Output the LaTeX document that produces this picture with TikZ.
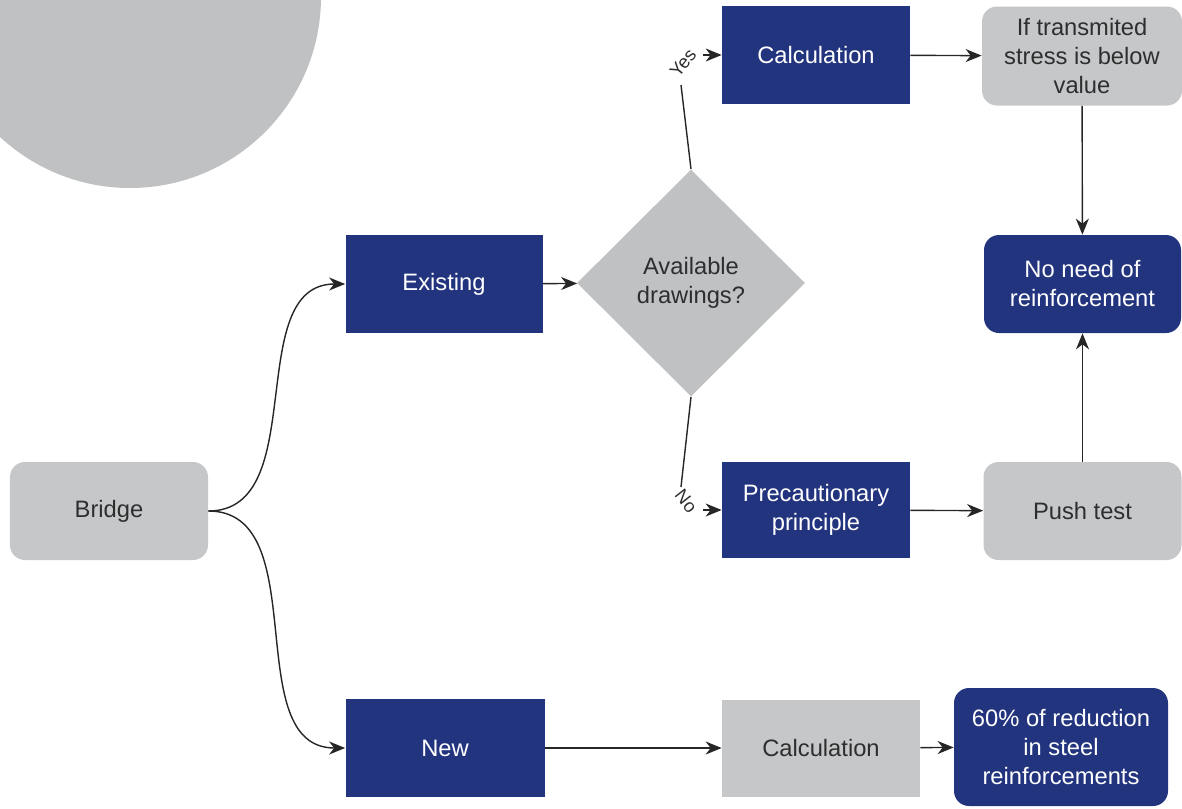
\documentclass[tikz,border=0pt]{standalone}
\usepackage{fontspec}
\setmainfont{Liberation Sans}
\usepackage{tikz}
\usetikzlibrary{shapes.geometric, arrows.meta}
\definecolor{navy}{HTML}{23347F}
\definecolor{boxgray}{HTML}{C6C7C9}
\definecolor{diagray}{HTML}{C0C1C3}
\definecolor{txtgray}{HTML}{2E2E2E}
\tikzset{
    every node/.style={align=center, inner sep=2pt,
    	font=\fontsize{13.5}{16.5}\selectfont}
}
\tikzset{
    navybox/.style={rectangle, fill=navy, text=white, minimum width=3.94cm,
    	minimum height=1.96cm},
    navyround/.style={navybox, rounded corners=0.3cm},
    graybox/.style={rectangle, fill=boxgray, text=txtgray,
    	minimum width=3.96cm, minimum height=1.96cm},
    grayround/.style={graybox, rounded corners=0.3cm},
    wire/.style={line width=0.8pt, draw=black!85},
    flow/.style={wire, -{Stealth[length=3.2mm, width=2.6mm, inset=1mm]}},
    answer/.style={inner sep=0pt, text=txtgray,
    	font=\fontsize{10.5}{12}\selectfont}
}

\begin{document}
\begin{tikzpicture}
  \useasboundingbox (0,0) rectangle (23.64,-16.16);
  \begin{scope}
    \clip (0,0) rectangle (23.64,-16.16);
    \fill [diagray] (2.6,0.06) circle (3.82cm);
  \end{scope}

  \node (bridge) [grayround] at (2.18cm, -10.22cm) {Bridge};
  \node (exist) [navybox] at (8.88cm, -5.68cm) {Existing};
  \node (new) [navybox, minimum width=3.98cm] at (8.9cm, -14.96cm) {New};
  \node (avail) [diamond, fill=diagray, text=txtgray, minimum width=4.56cm,
  	minimum height=4.54cm, inner sep=0pt] at (13.82cm, -5.66cm)
  	{Available\\drawings?};
  \node (calcA) [navybox, minimum width=3.76cm] at (16.32cm, -1.1cm)
  	{Calculation};
  \node (prec) [navybox, minimum width=3.76cm, minimum height=1.92cm]
  	at (16.32cm, -10.2cm) {Precautionary\\principle};
  \node (stress) [grayround, minimum width=4.0cm, minimum height=1.98cm]
  	at (21.64cm, -1.12cm) {If transmited\\stress is below\\value};
  \node (noneed) [navyround] at (21.65cm, -5.68cm)
  	{No need of\\reinforcement};
  \node (push) [grayround] at (21.65cm, -10.22cm) {Push test};
  \node (calcB) [graybox, minimum height=1.94cm] at (16.42cm, -14.96cm)
  	{Calculation};
  \node (sixty) [navyround, minimum width=4.28cm, minimum height=2.36cm]
  	at (21.22cm, -14.94cm)
  	{60\% of reduction\\in steel\\reinforcements};

  \node (yes) [answer, rotate=52] at (13.66cm, -1.26cm) {Yes};
  \node (no) [answer, rotate=-52] at (13.72cm, -10.02cm) {No};
  \coordinate (yesfoot) at (13.62cm, -1.7cm);
  \coordinate (yestip) at (14.06cm, -1.1cm);
  \coordinate (nohead) at (13.62cm, -9.74cm);
  \coordinate (notip) at (14.06cm, -10.2cm);

  \draw [flow] (bridge.east) to [out=0, in=180] (exist.west);
  \draw [flow] (bridge.east) to [out=0, in=180] (new.west);
  \draw [flow] (exist) -- (avail);
  \draw [wire] (avail.north) -- (yesfoot);
  \draw [flow] (yestip) -- (calcA.west);
  \draw [wire] (avail.south) -- (nohead);
  \draw [flow] (notip) -- (prec.west);
  \draw [flow] (calcA) -- (stress);
  \draw [flow] (stress) -- (noneed);
  \draw [flow] (push) -- (noneed);
  \draw [flow] (prec) -- (push);
  \draw [flow] (new) -- (calcB);
  \draw [flow] (calcB) -- (sixty);
\end{tikzpicture}
\end{document}
